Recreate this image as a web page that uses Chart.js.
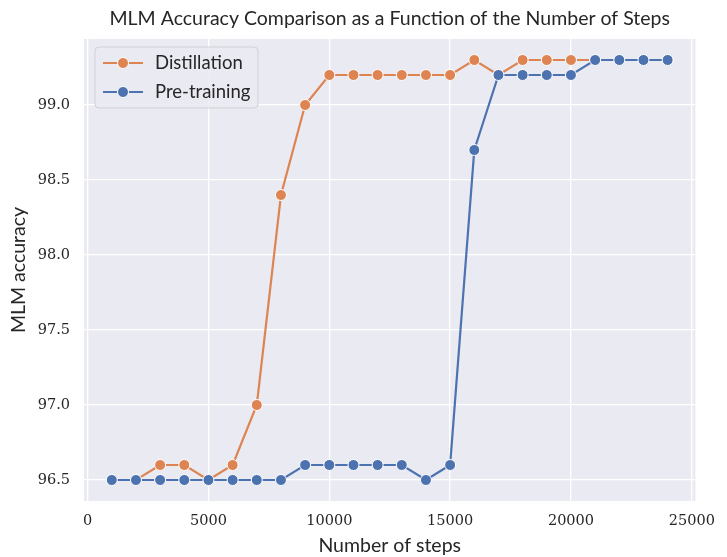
<!DOCTYPE html>
<html>
<head>
<meta charset="utf-8">
<script src="https://cdn.jsdelivr.net/npm/chart.js@4"></script>
<style>
  html, body { margin: 0; padding: 0; background: #fff; }
  #wrap { width: 727px; height: 557px; }
</style>
</head>
<body>
<div id="wrap"><canvas id="chart" width="727" height="557"></canvas></div>
<script>
const steps = [1000, 2000, 3000, 4000, 5000, 6000, 7000, 8000, 9000, 10000, 11000, 12000,
  13000, 14000, 15000, 16000, 17000, 18000, 19000, 20000, 21000, 22000, 23000, 24000];
const distillation = [96.5, 96.5, 96.6, 96.6, 96.5, 96.6, 97.0, 98.4, 99.0, 99.2, 99.2, 99.2,
  99.2, 99.2, 99.2, 99.3, 99.2, 99.3, 99.3, 99.3, 99.3, 99.3, 99.3, 99.3];
const preTraining = [96.5, 96.5, 96.5, 96.5, 96.5, 96.5, 96.5, 96.5, 96.6, 96.6, 96.6, 96.6,
  96.6, 96.5, 96.6, 98.7, 99.2, 99.2, 99.2, 99.2, 99.3, 99.3, 99.3, 99.3];
const xTicks = [0, 5000, 10000, 15000, 20000, 25000];
const yTicks = [96.5, 97.0, 97.5, 98.0, 98.5, 99.0];

const ORANGE = "#dd8452";
const BLUE = "#4c72b0";
const TEXT = "#262626";
const SANS = "Lato, 'Open Sans', sans-serif";
const SERIF = "'DejaVu Serif', serif";

const pts = (ys) => steps.map((x, i) => ({ x, y: ys[i] }));

function ds(label, data, color, order) {
  return {
    label, data: pts(data), order,
    borderColor: color, backgroundColor: color,
    borderWidth: 2.2, pointRadius: 5.5, pointHoverRadius: 5.5,
    pointBackgroundColor: color, pointBorderColor: "#fff", pointBorderWidth: 1,
    tension: 0
  };
}

// plot background (seaborn darkgrid)
const bgPlugin = {
  id: "bg",
  afterLayout(chart) {
    // center the title over the plot area, like matplotlib does
    const a = chart.chartArea;
    if (chart.titleBlock) {
      chart.titleBlock.left = a.left;
      chart.titleBlock.right = a.right;
    }
  },
  beforeDraw(chart) {
    const { ctx, chartArea: a } = chart;
    ctx.save();
    ctx.fillStyle = "#eaeaf2";
    ctx.fillRect(a.left, a.top, a.right - a.left, a.bottom - a.top);
    ctx.restore();
  }
};

// legend box in the upper left of the plot
const legendPlugin = {
  id: "boxLegend",
  afterDatasetsDraw(chart) {
    const { ctx, chartArea: a } = chart;
    const x0 = a.left + 11, y0 = a.top + 8, w = 163, h = 61;
    ctx.save();
    ctx.beginPath();
    ctx.roundRect(x0, y0, w, h, 4);
    ctx.fillStyle = "rgba(234,234,242,0.85)";
    ctx.fill();
    ctx.strokeStyle = "#d0d0d6";
    ctx.lineWidth = 1;
    ctx.stroke();
    chart.data.datasets.forEach((d, i) => {
      const cy = y0 + 16 + i * 29;
      ctx.strokeStyle = d.borderColor;
      ctx.lineWidth = 2.2;
      ctx.beginPath();
      ctx.moveTo(x0 + 8, cy);
      ctx.lineTo(x0 + 48, cy);
      ctx.stroke();
      ctx.beginPath();
      ctx.arc(x0 + 28, cy, 5.5, 0, Math.PI * 2);
      ctx.fillStyle = d.borderColor;
      ctx.fill();
      ctx.strokeStyle = "#fff";
      ctx.lineWidth = 1;
      ctx.stroke();
      ctx.fillStyle = TEXT;
      ctx.font = "18.5px " + SANS;
      ctx.textBaseline = "middle";
      ctx.fillText(d.label, x0 + 60, cy);
    });
    ctx.restore();
  }
};

new Chart(document.getElementById("chart"), {
  type: "line",
  data: {
    datasets: [
      ds("Distillation", distillation, ORANGE, 1),
      ds("Pre-training", preTraining, BLUE, 0)
    ]
  },
  plugins: [bgPlugin, legendPlugin],
  options: {
    responsive: false,
    animation: false,
    events: [],
    layout: { padding: { right: 23, left: 0, bottom: 0, top: 0 } },
    plugins: {
      legend: { display: false },
      tooltip: { enabled: false },
      title: {
        display: true,
        text: "MLM Accuracy Comparison as a Function of the Number of Steps",
        color: TEXT,
        font: { family: SANS, size: 19.5, weight: "normal", lineHeight: 1.2 },
        padding: { top: 7, bottom: 8.6 }
      }
    },
    scales: {
      x: {
        type: "linear",
        min: -150, max: 25150,
        afterBuildTicks(s) { s.ticks = xTicks.map(v => ({ value: v })); },
        afterFit(s) { s.height = 56; },
        grid: { color: "#fff", lineWidth: 1.3, drawTicks: false },
        border: { display: false },
        ticks: {
          color: TEXT, padding: 12,
          font: { family: SERIF, size: 14.5 },
          callback: v => String(v)
        },
        title: {
          display: true, text: "Number of steps", color: TEXT,
          font: { family: SANS, size: 19.5 }, padding: { top: 0, bottom: 0 }
        }
      },
      y: {
        type: "linear",
        min: 96.36, max: 99.44,
        afterBuildTicks(s) { s.ticks = yTicks.map(v => ({ value: v })); },
        afterFit(s) { s.width = 84; },
        grid: { color: "#fff", lineWidth: 1.3, drawTicks: false },
        border: { display: false },
        ticks: {
          color: TEXT, padding: 14,
          font: { family: SERIF, size: 14.5 },
          callback: v => v.toFixed(1)
        },
        title: {
          display: true, text: "MLM accuracy", color: TEXT,
          font: { family: SANS, size: 19.5 }, padding: { top: 7, bottom: 0 }
        }
      }
    }
  }
});
</script>
</body>
</html>
